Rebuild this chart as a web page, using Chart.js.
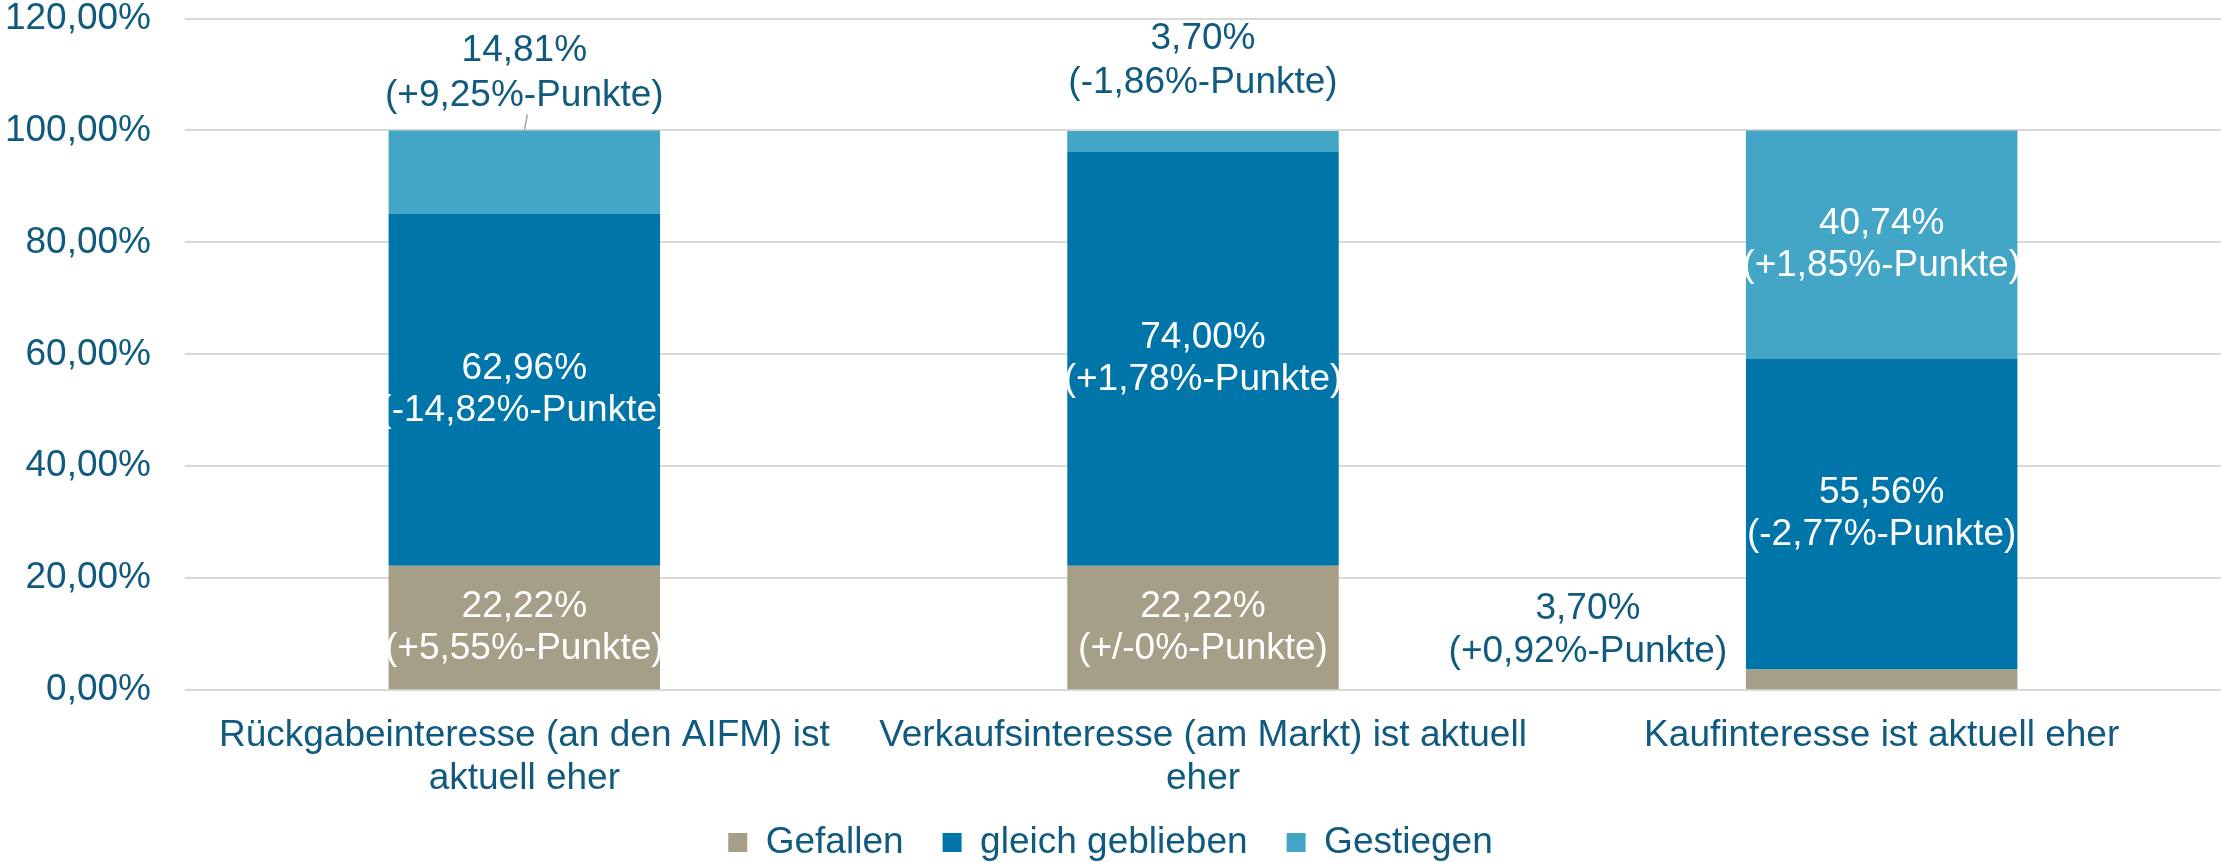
<!DOCTYPE html>
<html>
<head>
<meta charset="utf-8">
<script src="https://cdn.jsdelivr.net/npm/chart.js@4.4.0/dist/chart.umd.min.js"></script>
<style>
html, body { margin: 0; padding: 0; background: #fff; }
#wrap { width: 2221px; height: 863px; }
</style>
</head>
<body>
<div id="wrap"><canvas id="chart"></canvas></div>
<script>
var categories = [
    ['Rückgabeinteresse (an den AIFM) ist', 'aktuell eher'],
    ['Verkaufsinteresse (am Markt) ist aktuell', 'eher'],
    'Kaufinteresse ist aktuell eher'
];
var gefallen = [22.22, 22.22, 3.70];
var gleichGeblieben = [62.96, 74.00, 55.56];
var gestiegen = [14.81, 3.70, 40.74];
var changeGefallen = ['+5,55', '+/-0', '+0,92'];
var changeGleich = ['-14,82', '+1,78', '-2,77'];
var changeGestiegen = ['+9,25', '-1,86', '+1,85'];
var yMin = 0, yMax = 120, yStep = 20;

var textColor = '#0f5a7e';
var fontFamily = '"Liberation Sans", Arial, sans-serif';
var fontSize = 37;

// where each value label goes: inside the segment, above the bar, or left of it
var placement = [
    ['in', 'in', 'left'],
    ['in', 'in', 'in'],
    ['above', 'above', 'in']
];
// pixel lift of the two lines for labels placed above a bar
var aboveLift = [[80, 35], [92, 48], [86, 42]];

function fmt(v) {
    return v.toFixed(2).replace('.', ',');
}

var valueLabels = {
    id: 'valueLabels',
    afterDatasetsDraw: function (chart) {
        var ctx = chart.ctx;
        ctx.save();
        ctx.font = fontSize + 'px ' + fontFamily;
        ctx.textAlign = 'center';
        ctx.textBaseline = 'middle';
        chart.data.datasets.forEach(function (ds, di) {
            chart.getDatasetMeta(di).data.forEach(function (bar, i) {
                var line1 = fmt(ds.data[i]) + '%';
                var line2 = '(' + ds.changes[i] + '%-Punkte)';
                var mode = placement[di][i];
                var x = bar.x, y1, y2;
                if (mode === 'in') {
                    var mid = (bar.y + bar.base) / 2;
                    y1 = mid - 21;
                    y2 = mid + 21;
                    ctx.fillStyle = '#ffffff';
                } else if (mode === 'above') {
                    y1 = bar.y - aboveLift[i][0];
                    y2 = bar.y - aboveLift[i][1];
                    ctx.fillStyle = textColor;
                    if (i === 0) {
                        ctx.strokeStyle = '#a6a6a6';
                        ctx.lineWidth = 1.5;
                        ctx.beginPath();
                        ctx.moveTo(x + 3, bar.y - 16);
                        ctx.lineTo(x, bar.y);
                        ctx.stroke();
                    }
                } else {
                    x = bar.x - bar.width / 2 - 158;
                    y1 = bar.base - 80;
                    y2 = bar.base - 37;
                    ctx.fillStyle = textColor;
                }
                ctx.fillText(line1, x, y1);
                ctx.fillText(line2, x, y2);
            });
        });
        ctx.restore();
    }
};

var ctx = document.getElementById('chart').getContext('2d');
var myChart = new Chart(ctx, {
    type: 'bar',
    data: {
        labels: categories,
        datasets: [
            {
                label: 'Gefallen',
                data: gefallen,
                changes: changeGefallen,
                backgroundColor: '#a59f88'
            },
            {
                label: 'gleich geblieben',
                data: gleichGeblieben,
                changes: changeGleich,
                backgroundColor: '#0075aa'
            },
            {
                label: 'Gestiegen',
                data: gestiegen,
                changes: changeGestiegen,
                backgroundColor: '#43a6c7'
            }
        ]
    },
    options: {
        responsive: true,
        maintainAspectRatio: false,
        animation: false,
        barPercentage: 0.4,
        categoryPercentage: 1,
        layout: {
            padding: { left: 0, right: 0, top: 0, bottom: -8 }
        },
        plugins: {
            legend: {
                position: 'bottom',
                labels: {
                    boxWidth: 19,
                    boxHeight: 19,
                    padding: 0,
                    color: textColor,
                    font: { size: fontSize, family: fontFamily },
                    generateLabels: function (chart) {
                        var items = Chart.defaults.plugins.legend.labels.generateLabels(chart);
                        items.forEach(function (item, k) {
                            // gap before the next legend entry
                            if (k < items.length - 1) item.text = item.text + '\u2002  ';
                        });
                        return items;
                    }
                }
            },
            tooltip: { enabled: false }
        },
        scales: {
            x: {
                stacked: true,
                grid: { display: false, drawTicks: false },
                border: { display: false },
                ticks: {
                    color: textColor,
                    padding: 24,
                    maxRotation: 0,
                    autoSkip: false,
                    font: { size: fontSize, family: fontFamily, lineHeight: 1.16 }
                }
            },
            y: {
                stacked: true,
                min: yMin,
                max: yMax,
                grid: {
                    color: '#d9d9d9',
                    lineWidth: 2,
                    tickLength: 34,
                    tickColor: 'rgba(0,0,0,0)'
                },
                border: { display: false },
                ticks: {
                    stepSize: yStep,
                    padding: 0,
                    color: textColor,
                    font: { size: fontSize, family: fontFamily, lineHeight: 1 },
                    callback: function (value) {
                        return fmt(value) + '%';
                    }
                },
                afterFit: function (scale) {
                    scale.width = 185;
                }
            }
        }
    },
    plugins: [valueLabels]
});
</script>
</body>
</html>
